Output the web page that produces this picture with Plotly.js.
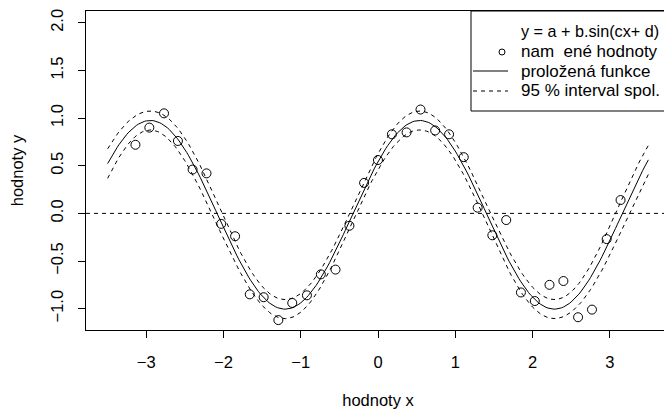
<!DOCTYPE html>
<html>
<head>
<meta charset="utf-8">
<script src="https://cdn.plot.ly/plotly-3.0.1.min.js"></script>
<style>
html, body { margin: 0; padding: 0; overflow: hidden; background: #fff; }
#chart { width: 672px; height: 409px; }
</style>
</head>
<body>
<div id="chart"></div>
<script>
const xObs = [-3.14, -2.96, -2.77, -2.59, -2.40, -2.22, -2.03, -1.85, -1.66, -1.48,
              -1.29, -1.11, -0.92, -0.74, -0.55, -0.37, -0.18, 0.00, 0.18, 0.37,
               0.55, 0.74, 0.92, 1.11, 1.29, 1.48, 1.66, 1.85, 2.03, 2.22,
               2.40, 2.59, 2.77, 2.96, 3.14];
const yObs = [0.72, 0.90, 1.05, 0.76, 0.46, 0.42, -0.11, -0.24, -0.85, -0.88,
              -1.12, -0.94, -0.86, -0.64, -0.59, -0.13, 0.32, 0.56, 0.83, 0.85,
               1.09, 0.87, 0.83, 0.59, 0.06, -0.23, -0.07, -0.83, -0.92, -0.75,
              -0.71, -1.09, -1.01, -0.27, 0.14];

// Fitted model y = a + b*sin(c*x + d), parameters
const fitParams = [-0.015, 0.99, 1.802, 0.598];        // a, b, c, d
const fitHalfWidths = [0.045, 0.089, 0.045, 0.060];    // 95 % half-widths of a, b, c, d
const fitRange = [-3.5, 3.5];

// Text
const xTitle = 'hodnoty x';
const yTitle = 'hodnoty y';
const xTicks = [-3, -2, -1, 0, 1, 2, 3];
const yTicks = [-1.0, -0.5, 0.0, 0.5, 1.0, 1.5, 2.0];
const yTickText = ['\u22121.0', '\u22120.5', '0.0', '0.5', '1.0', '1.5', '2.0'];
const legendTitle = 'y = a + b.sin(cx+ d)';
const legendLabels = ['nam  ené hodnoty', 'proložená funkce', '95 % interval spol.'];

// ---- model evaluation ----
const [A, B, C, D] = fitParams;
const [hA, hB, hC, hD] = fitHalfWidths;
const xFit = [], yFit = [], yUp = [], yLo = [];
const nFit = 281;
for (let i = 0; i < nFit; i++) {
  const x = fitRange[0] + (fitRange[1] - fitRange[0]) * i / (nFit - 1);
  const th = C * x + D;
  const y = A + B * Math.sin(th);
  const g = B * Math.cos(th);
  const h = Math.sqrt(hA * hA + Math.pow(Math.sin(th) * hB, 2) + g * g * (hD * hD + x * x * hC * hC));
  xFit.push(x); yFit.push(y); yUp.push(y + h); yLo.push(y - h);
}

// ---- layout geometry ----
const W = 672, H = 409;
const mL = 86, mR = 2, mT = 11, mB = 79;
const pw = W - mL - mR, ph = H - mT - mB;
const px = v => (v - mL) / pw;          // pixel -> paper x
const py = v => (H - mB - v) / ph;      // pixel -> paper y

const font = 'Liberation Sans, Arial, Helvetica, sans-serif';
const fs = 16.5;
const fsLeg = [16.2, 17, 17, 17];
const dash = '4px,4px';

const traces = [
  { x: xFit, y: yUp, mode: 'lines', line: { color: '#000', width: 1, dash: dash }, hoverinfo: 'skip', showlegend: false },
  { x: xFit, y: yLo, mode: 'lines', line: { color: '#000', width: 1, dash: dash }, hoverinfo: 'skip', showlegend: false },
  { x: xFit, y: yFit, mode: 'lines', line: { color: '#000', width: 1 }, showlegend: false },
  { x: xObs, y: yObs, mode: 'markers', marker: { symbol: 'circle-open', size: 9, color: '#000', line: { width: 1, color: '#000' } }, showlegend: false }
];

const shapes = [
  { type: 'line', xref: 'paper', yref: 'y', x0: 0, x1: 1, y0: 0, y1: 0, line: { color: '#000', width: 1, dash: dash } },
  // legend box
  { type: 'rect', xref: 'paper', yref: 'paper', x0: px(471), x1: px(670), y0: py(111), y1: py(11), line: { color: '#000', width: 1 }, fillcolor: '#fff' },
  { type: 'circle', xref: 'paper', yref: 'paper', x0: px(499), x1: px(505), y0: py(55), y1: py(49), line: { color: '#000', width: 1 } },
  { type: 'line', xref: 'paper', yref: 'paper', x0: px(473), x1: px(508), y0: py(71), y1: py(71), line: { color: '#000', width: 1 } },
  { type: 'line', xref: 'paper', yref: 'paper', x0: px(473), x1: px(508), y0: py(91), y1: py(91), line: { color: '#000', width: 1, dash: dash } }
];

const rowY = [31, 51.5, 71, 91];
const legendTexts = [legendTitle].concat(legendLabels);
const annotations = legendTexts.map((t, i) => ({
  text: t, xref: 'paper', yref: 'paper', x: px(519), y: py(rowY[i]),
  xanchor: 'left', yanchor: 'middle', showarrow: false,
  font: { family: font, size: fsLeg[i], color: '#000' }
}));

const layout = {
  width: W, height: H,
  margin: { l: mL, r: mR, t: mT, b: mB, pad: 0 },
  paper_bgcolor: '#fff', plot_bgcolor: '#fff',
  font: { family: font, size: fs, color: '#000' },
  showlegend: false,
  xaxis: {
    range: [-3.78, 3.78], tickvals: xTicks, ticks: 'outside', ticklen: 7, tickcolor: '#000', tickwidth: 1,
    showline: true, mirror: true, linecolor: '#000', linewidth: 1, showgrid: false, zeroline: false,
    tickfont: { family: font, size: fs, color: '#000' }, ticklabelstandoff: 10,
    title: { text: xTitle, font: { family: font, size: fs, color: '#000' }, standoff: 26 },
    automargin: false
  },
  yaxis: {
    range: [-1.224, 2.124], tickvals: yTicks, ticktext: yTickText, tickangle: -90,
    ticks: 'outside', ticklen: 7, tickcolor: '#000', tickwidth: 1,
    showline: true, mirror: true, linecolor: '#000', linewidth: 1, showgrid: false, zeroline: false,
    tickfont: { family: font, size: fs, color: '#000' }, ticklabelstandoff: 8,
    title: { text: yTitle, font: { family: font, size: fs, color: '#000' }, standoff: 20 },
    automargin: false
  },
  shapes: shapes,
  annotations: annotations
};

Plotly.newPlot('chart', traces, layout, { displayModeBar: false, staticPlot: true });
</script>
</body>
</html>
